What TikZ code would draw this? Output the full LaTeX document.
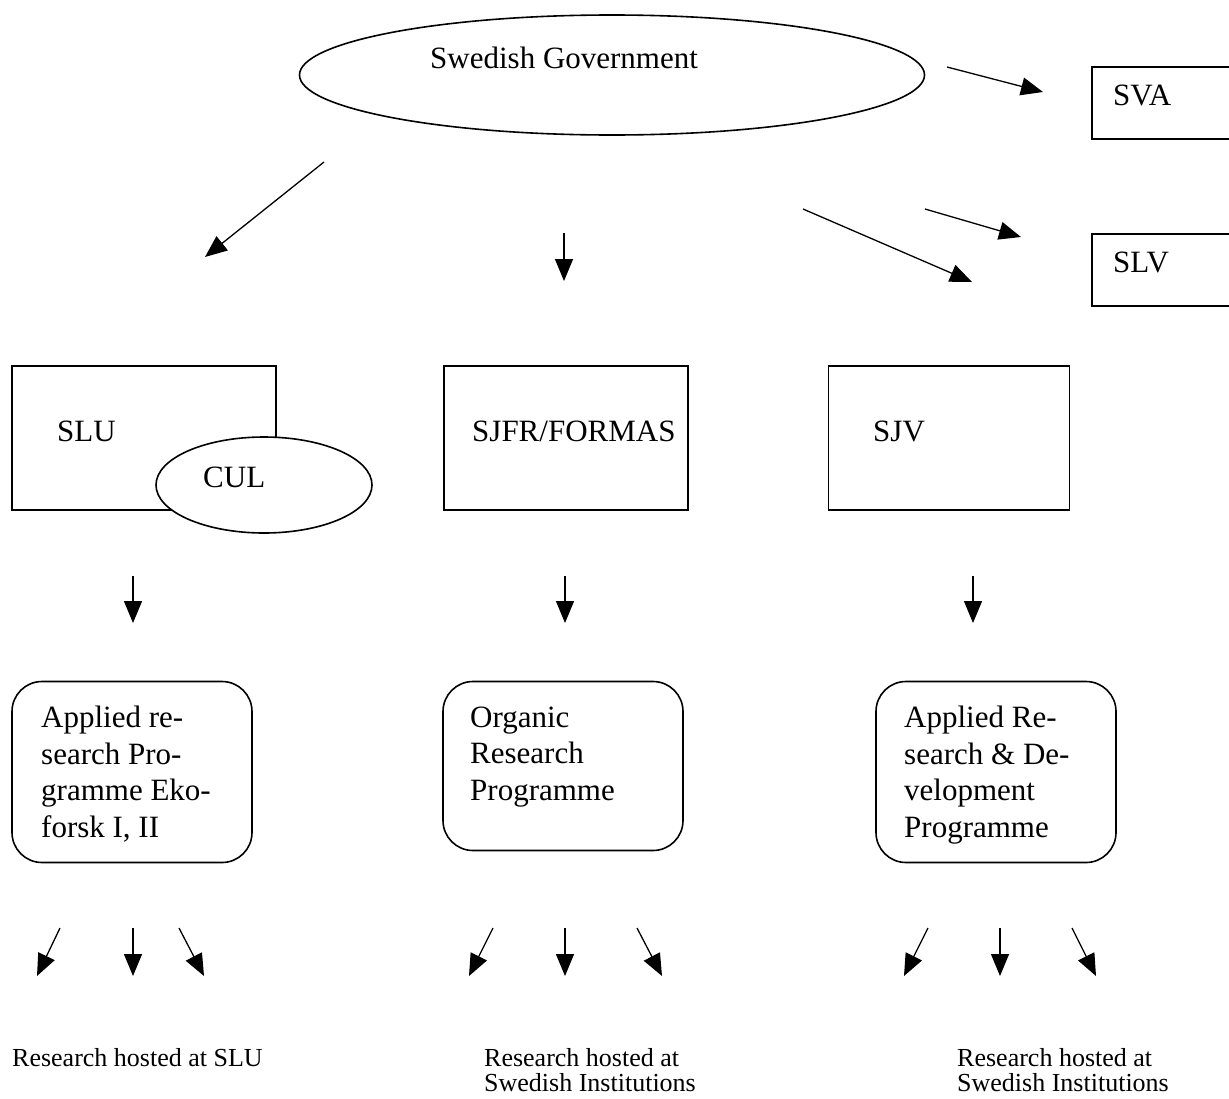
\documentclass[tikz,border=0pt]{standalone}
\usepackage{fontspec}
\setmainfont{Liberation Serif}
\usetikzlibrary{shapes.geometric,arrows.meta}
\begin{document}
\begin{tikzpicture}[x=1pt,y=-1pt,
  arr/.style={line width=1.3pt,-{Triangle[length=22pt,width=18pt]}},
  box/.style={draw,line width=1.6pt,rectangle,inner sep=0pt},
  rbox/.style={draw,line width=1.6pt,rectangle,rounded corners=30pt,inner sep=0pt},
  oval/.style={draw,line width=1.6pt,ellipse,inner sep=0pt,fill=white},
  lbl/.style={inner sep=0pt,anchor=base west,font=\fontsize{31}{36.5}\selectfont,align=left},
  note/.style={inner sep=0pt,anchor=base west,font=\fontsize{26}{25.5}\selectfont,align=left}]
\useasboundingbox (0,0) rectangle (1229,1098);
\clip (0,0) rectangle (1229,1098);
% top level
\node[oval,minimum width=625pt,minimum height=120pt] (gov) at (612,75) {};
\node[lbl] (govt) at (430,68) {Swedish Government};
\node[box,minimum width=160pt,minimum height=72pt] (sva) at (1172,103) {};
\node[lbl] (svat) at (1113,105) {SVA};
\node[box,minimum width=160pt,minimum height=72pt] (slv) at (1172,270) {};
\node[lbl] (slvt) at (1113,272) {SLV};
% arrows from government
\coordinate (a1s) at (947,67);  \coordinate (a1e) at (1043,92);
\coordinate (a2s) at (324,162); \coordinate (a2e) at (205,257);
\coordinate (a3s) at (564,233); \coordinate (a3e) at (564,281);
\coordinate (a4s) at (803,209); \coordinate (a4e) at (972,282);
\coordinate (a5s) at (925,209); \coordinate (a5e) at (1021,237);
\draw[arr] (a1s) -- (a1e);
\draw[arr] (a2s) -- (a2e);
\draw[arr] (a3s) -- (a3e);
\draw[arr] (a4s) -- (a4e);
\draw[arr] (a5s) -- (a5e);
% agencies
\node[box,minimum width=264pt,minimum height=144pt] (slu) at (144,438) {};
\node[lbl] (slut) at (57,441) {SLU};
\node[oval,minimum width=216pt,minimum height=96pt] (cul) at (264,485) {};
\node[lbl] (cult) at (203,487) {CUL};
\node[box,minimum width=244pt,minimum height=144pt] (sjfr) at (566,438) {};
\node[lbl] (sjfrt) at (472,441) {SJFR/FORMAS};
\node[box,minimum width=241pt,minimum height=144pt] (sjv) at (949,438) {};
\node[lbl] (sjvt) at (873,441) {SJV};
% down arrows
\coordinate (d1s) at (133,576); \coordinate (d1e) at (133,623);
\coordinate (d2s) at (565,576); \coordinate (d2e) at (565,623);
\coordinate (d3s) at (973,576); \coordinate (d3e) at (973,623);
\draw[arr] (d1s) -- (d1e);
\draw[arr] (d2s) -- (d2e);
\draw[arr] (d3s) -- (d3e);
% programmes
\node[rbox,minimum width=240pt,minimum height=181pt] (p1) at (132,772) {};
\node[lbl] (p1t) at (41,837) {Applied re-\\search Pro-\\gramme Eko-\\forsk I, II};
\node[rbox,minimum width=240pt,minimum height=169pt] (p2) at (563,766) {};
\node[lbl] (p2t) at (470,800) {Organic\\Research\\Programme};
\node[rbox,minimum width=240pt,minimum height=181pt] (p3) at (996,772) {};
\node[lbl] (p3t) at (904,837) {Applied Re-\\search \& De-\\velopment\\Programme};
% bottom arrows
\coordinate (b1s) at (60,928);  \coordinate (b1e) at (37,976);
\coordinate (b2s) at (133,928); \coordinate (b2e) at (133,976);
\coordinate (b3s) at (179,928); \coordinate (b3e) at (204,976);
\coordinate (b4s) at (493,928); \coordinate (b4e) at (469,976);
\coordinate (b5s) at (565,928); \coordinate (b5e) at (565,976);
\coordinate (b6s) at (637,928); \coordinate (b6e) at (662,976);
\coordinate (b7s) at (928,928); \coordinate (b7e) at (904,976);
\coordinate (b8s) at (1000,928);\coordinate (b8e) at (1000,976);
\coordinate (b9s) at (1072,928);\coordinate (b9e) at (1096,976);
\foreach \i in {1,...,9} {\draw[arr] (b\i s) -- (b\i e);}
% bottom notes
\node[note] (n1) at (12,1066) {Research hosted at SLU};
\node[note] (n2) at (484,1091.5) {Research hosted at\\Swedish Institutions};
\node[note] (n3) at (957,1091.5) {Research hosted at\\Swedish Institutions};
\end{tikzpicture}
\end{document}
